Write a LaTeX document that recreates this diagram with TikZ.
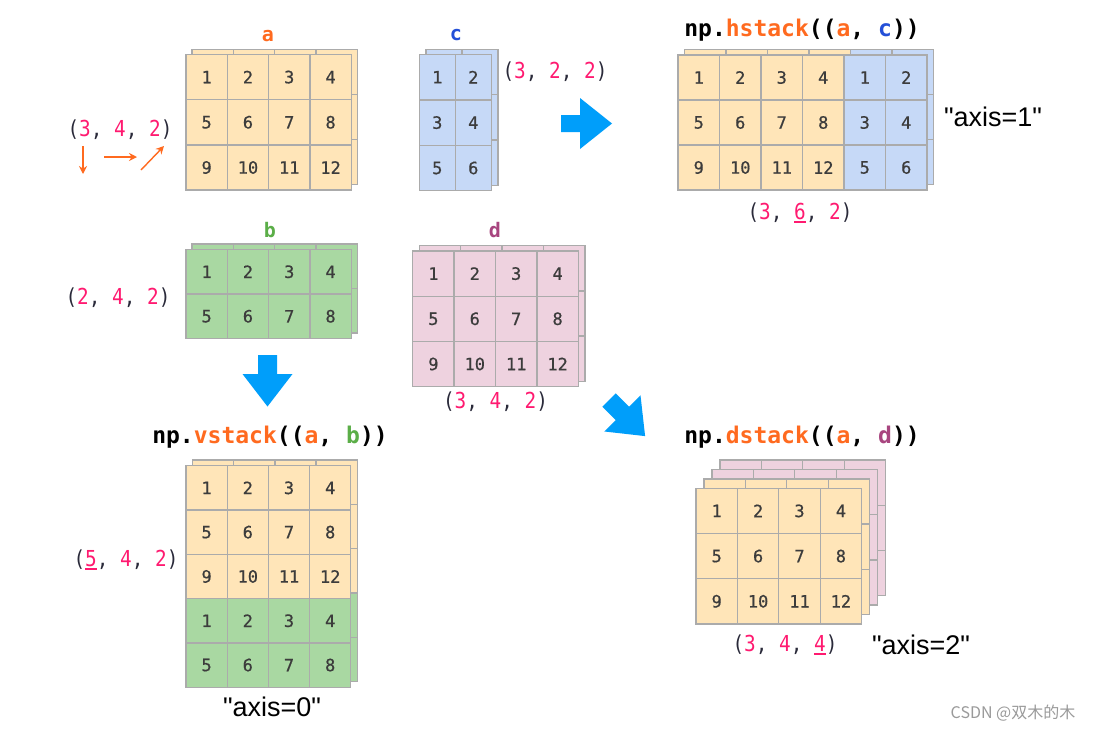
\documentclass[tikz,border=0pt]{standalone}
\usepackage{fontspec}
\setmainfont{Liberation Sans}
\newfontfamily\axisf[Ligatures=TeXOff]{Liberation Sans}
\newfontfamily\mono{DejaVu Sans Mono}
\newfontfamily\monon[FakeStretch=0.88]{DejaVu Sans Mono}
\newfontfamily\cellf[FakeBold=0.6]{DejaVu Sans Mono}
\newfontfamily\cjk{Noto Sans CJK SC}
\usetikzlibrary{arrows.meta}
\definecolor{cellline}{HTML}{ABABAB}
\definecolor{numgray}{HTML}{3C3C3C}
\definecolor{orfill}{HTML}{FFE5B8}
\definecolor{blfill}{HTML}{C6D9F7}
\definecolor{grfill}{HTML}{A9D8A2}
\definecolor{pkfill}{HTML}{EED2DF}
\definecolor{orange1}{HTML}{FF6A1F}
\definecolor{blue1}{HTML}{2450D8}
\definecolor{green1}{HTML}{5BAE48}
\definecolor{purple1}{HTML}{A8457F}
\definecolor{pink1}{HTML}{FF1A70}
\definecolor{paren}{HTML}{2A2A3A}
\definecolor{arrowblue}{HTML}{009EFA}
\definecolor{wm}{HTML}{9A9A9A}

% #1 name, #2 x, #3 y, #4 cols, #5 rows, #6 fill, #7 cell width, #8 cell height, #9 numbers (1/0)
\newcommand\layer[9]{%
 \foreach \r in {1,...,#5}{%
  \foreach \c in {1,...,#4}{%
   \pgfmathtruncatemacro\n{(\r-1)*#4+\c}%
   \node[cell,fill=#6,minimum width=#7pt,minimum height=#8pt] (#1-\r-\c)
     at ({#2+(\c-0.5)*#7},{#3+(\r-0.5)*#8}) {\ifnum#9=1 \n\fi};
  }}}
\newcommand\pk[1]{\textcolor{pink1}{#1}}
\newcommand\ulnum[1]{\textcolor{pink1}{\setbox0\hbox{#1}\rlap{\rule[-3.5pt]{\wd0}{2pt}}\box0}}
\newcommand\tup[3]{\color{paren}(#1, #2, #3)}

\begin{document}
\begin{tikzpicture}[x=1pt,y=-1pt,
  cell/.style={draw=cellline,line width=1.3pt,inner sep=0pt,text=numgray,
    font=\cellf\fontsize{17}{19}\selectfont},
  lbl/.style={font=\mono\bfseries\fontsize{20}{22}\selectfont,inner sep=0pt},
  tuple/.style={font=\monon\fontsize{22}{24}\selectfont,inner sep=0pt},
  title/.style={font=\mono\bfseries\fontsize{23}{26}\selectfont,inner sep=0pt},
  axislbl/.style={font=\axisf\fontsize{27}{30}\selectfont,inner sep=0pt},
  bigarrow/.style={fill=arrowblue},
  smallarrow/.style={draw=orange1,line width=1.4pt,-{Stealth[length=8pt,width=8pt]}}]
\useasboundingbox (0,0) rectangle (1097,731);
\fill[white] (0,0) rectangle (1097,731);

% ---- a ----
\layer{aB}{192}{49.2}{4}{3}{orfill}{41.3}{45.2}{0}
\layer{a}{186}{54.5}{4}{3}{orfill}{41.3}{45.2}{1}
\node[lbl,text=orange1] (la) at (268,36) {a};
\node[tuple] (ta) at (120,130) {\tup{\pk{3}}{\pk{4}}{\pk{2}}};
\coordinate (d1s) at (83,146); \coordinate (d1e) at (83,174);
\coordinate (d2s) at (104,157); \coordinate (d2e) at (137,157);
\coordinate (d3s) at (141,170); \coordinate (d3e) at (164,146);
\draw[smallarrow] (d1s) -- (d1e);
\draw[smallarrow] (d2s) -- (d2e);
\draw[smallarrow] (d3s) -- (d3e);

% ---- c ----
\layer{cB}{426}{49.2}{2}{3}{blfill}{36}{45.4}{0}
\layer{c}{419.3}{54.5}{2}{3}{blfill}{36}{45.4}{1}
\node[lbl,text=blue1] (lc) at (456,35) {c};
\node[tuple] (tc) at (555,72) {\tup{\pk{3}}{\pk{2}}{\pk{2}}};

% ---- hstack ----
\fill[bigarrow] (561,115) -- (580,115) -- (580,98) -- (612,123.5) -- (580,149) -- (580,132) -- (561,132) -- cycle;
\node[title] (th) at (802,30) {np.\textcolor{orange1}{hstack}((\textcolor{orange1}{a}, \textcolor{blue1}{c}))};
\layer{hB1}{684.5}{49.5}{4}{3}{orfill}{41.5}{45}{0}
\layer{hB2}{850.5}{49.5}{2}{3}{blfill}{41.5}{45}{0}
\layer{hA}{678}{55}{4}{3}{orfill}{41.5}{45}{1}
\layer{hC}{844}{55}{2}{3}{blfill}{41.5}{45}{1}
\node[axislbl] (ah) at (993,117) {"axis=1"};
\node[tuple] (tsh) at (800,213) {\tup{\pk{3}}{\ulnum{6}}{\pk{2}}};

% ---- b ----
\layer{bB}{192}{244}{4}{2}{grfill}{41.3}{44.5}{0}
\layer{b}{186}{249.5}{4}{2}{grfill}{41.3}{44.5}{1}
\node[lbl,text=green1] (lb) at (270,230) {b};
\node[tuple] (tb) at (118,298) {\tup{\pk{2}}{\pk{4}}{\pk{2}}};
\fill[bigarrow] (258,355) -- (277,355) -- (277,374) -- (292.5,374) -- (267.5,406.5) -- (242.5,374) -- (258,374) -- cycle;

% ---- d ----
\layer{dB}{419.3}{245.7}{4}{3}{pkfill}{41.4}{45.2}{0}
\layer{d}{412.7}{251}{4}{3}{pkfill}{41.4}{45.2}{1}
\node[lbl,text=purple1] (ld) at (495,230) {d};
\node[tuple] (td) at (495.5,402) {\tup{\pk{3}}{\pk{4}}{\pk{2}}};
\fill[bigarrow] (615.7,393.3) -- (629.2,406.7) -- (640.5,395.4) -- (645.1,436.1) -- (604.4,431.5) -- (615.7,420.2) -- (602.3,406.7) -- cycle;

% ---- vstack ----
\node[title] (tv) at (270,437) {np.\textcolor{orange1}{vstack}((\textcolor{orange1}{a}, \textcolor{green1}{b}))};
\layer{vB1}{192.5}{460}{4}{3}{orfill}{41.2}{44.3}{0}
\layer{vB2}{192.5}{592.9}{4}{2}{grfill}{41.2}{44.3}{0}
\layer{vA}{186}{465.7}{4}{3}{orfill}{41.2}{44.3}{1}
\layer{vG}{186}{598.6}{4}{2}{grfill}{41.2}{44.3}{1}
\node[tuple] (tsv) at (126,560) {\tup{\ulnum{5}}{\pk{4}}{\pk{2}}};
\node[axislbl] (av) at (272,707) {"axis=0"};

% ---- dstack ----
\node[title] (tds) at (802,437) {np.\textcolor{orange1}{dstack}((\textcolor{orange1}{a}, \textcolor{purple1}{d}))};
\layer{dsP2}{720}{460.1}{4}{3}{pkfill}{41.4}{45.2}{0}
\layer{dsP1}{712}{469.5}{4}{3}{pkfill}{41.4}{45.2}{0}
\layer{dsO2}{704}{478.9}{4}{3}{orfill}{41.4}{45.2}{0}
\layer{dsO1}{696}{488.3}{4}{3}{orfill}{41.4}{45.2}{1}
\node[tuple] (tsd) at (785,645) {\tup{\pk{3}}{\pk{4}}{\ulnum{4}}};
\node[axislbl] (ad) at (921,645) {"axis=2"};

% ---- watermark ----
\node[inner sep=0pt,text=wm,font=\cjk\fontsize{16}{18}\selectfont] (wm) at (1013,713) {CSDN @双木的木};
\end{tikzpicture}
\end{document}
